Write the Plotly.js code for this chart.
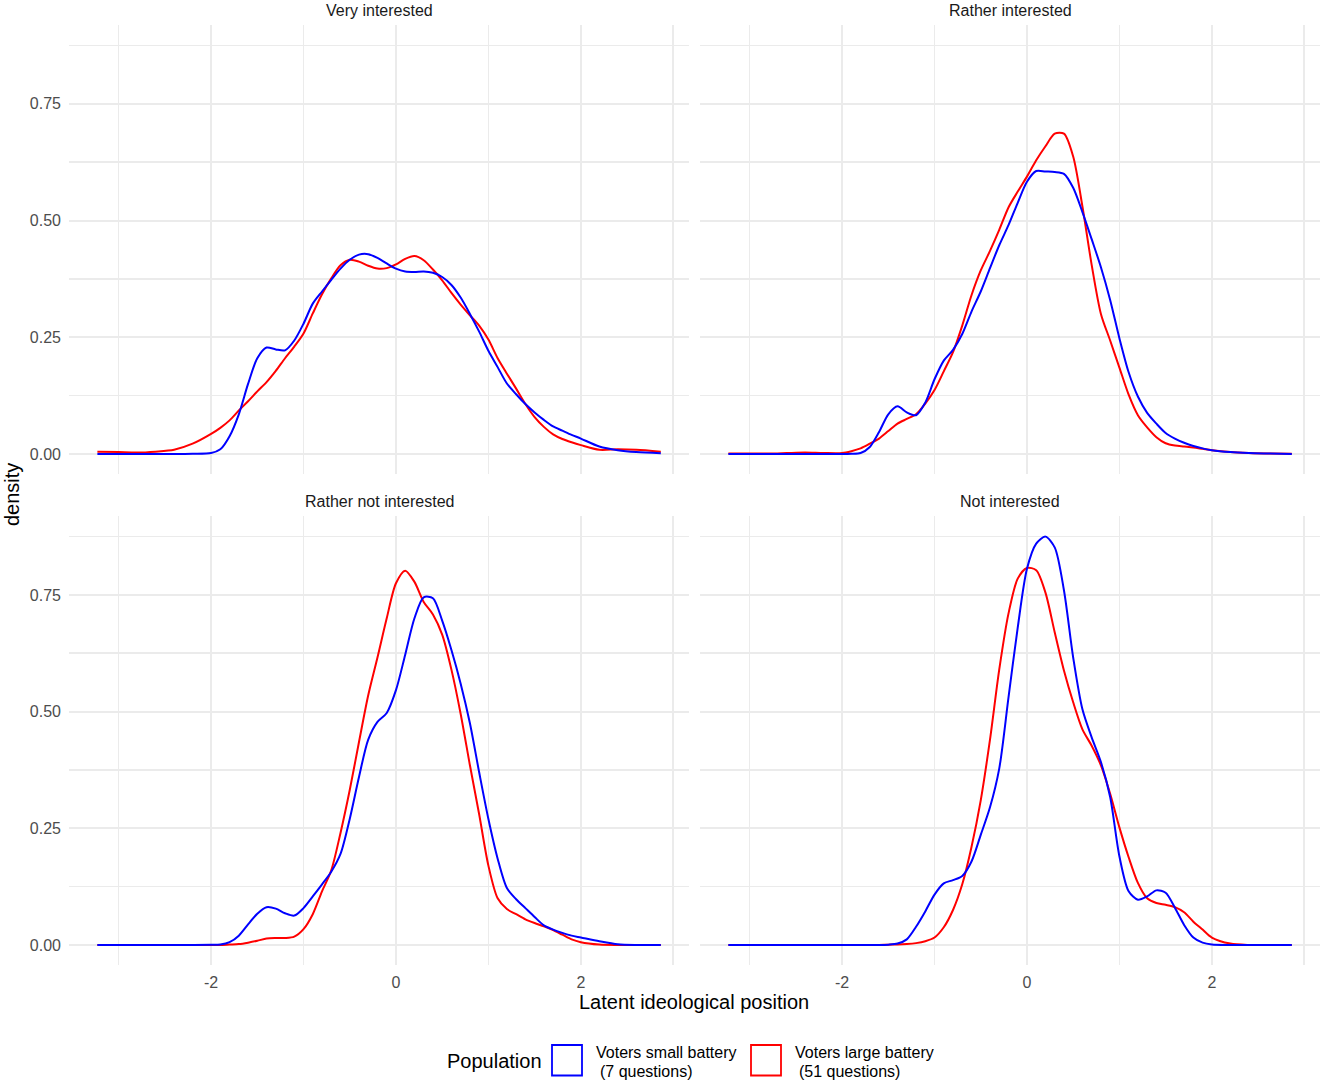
<!DOCTYPE html>
<html>
<head>
<meta charset="utf-8">
<script src="https://cdn.plot.ly/plotly-3.0.1.min.js"></script>
<style>
html,body{margin:0;padding:0;background:#fff;}
#chart{width:1325px;height:1083px;}
</style>
</head>
<body>
<div id="chart"></div>
<script>
// ---- data ----
const xs = [-3.23,-3.0,-2.8,-2.6,-2.4,-2.2,
  -2.0,-1.9,-1.8,-1.7,-1.6,-1.5,-1.4,-1.3,-1.2,-1.1,
  -1.0,-0.9,-0.8,-0.7,-0.6,-0.5,-0.4,-0.3,-0.2,-0.1,
  0.0,0.1,0.2,0.3,0.4,0.5,0.6,0.7,0.8,0.9,
  1.0,1.1,1.2,1.3,1.4,1.5,1.6,1.7,1.8,1.9,
  2.0,2.2,2.4,2.6,2.865];

const panels = ["Very interested","Rather interested","Rather not interested","Not interested"];
const seriesNames = ["Voters small battery", "Voters large battery"];
const seriesSub = ["(7 questions)", "(51 questions)"];

// Very interested
const veryInterestedSmall = [0,0,0,0,0,0.0005,
  0.002,0.01,0.038,0.085,0.15,0.205,0.228,0.224,0.222,0.243,
  0.279,0.322,0.348,0.373,0.397,0.416,0.427,0.428,0.42,0.408,
  0.397,0.391,0.39,0.391,0.388,0.379,0.362,0.335,0.3,0.262,
  0.221,0.186,0.151,0.128,0.107,0.089,0.073,0.059,0.05,0.041,
  0.033,0.016,0.008,0.004,0.0015];
const veryInterestedLarge = [0.005,0.004,0.003,0.005,0.009,0.022,
  0.043,0.056,0.072,0.093,0.113,0.134,0.154,0.178,0.205,0.23,
  0.258,0.301,0.342,0.376,0.404,0.416,0.412,0.403,0.397,0.398,
  0.406,0.418,0.424,0.415,0.395,0.372,0.345,0.32,0.297,0.275,
  0.245,0.205,0.172,0.14,0.107,0.079,0.058,0.042,0.032,0.025,
  0.019,0.009,0.01,0.009,0.005];

// Rather interested
const ratherInterestedSmall = [0,0,0,0,0,0,
  0,0.0005,0.002,0.015,0.047,0.085,0.102,0.089,0.083,0.11,
  0.16,0.2,0.223,0.257,0.305,0.348,0.398,0.447,0.49,0.538,
  0.583,0.606,0.605,0.604,0.6,0.57,0.518,0.46,0.4,0.33,
  0.248,0.175,0.123,0.088,0.065,0.045,0.033,0.024,0.017,0.012,
  0.008,0.004,0.002,0.001,0];
const ratherInterestedLarge = [0.001,0.001,0.001,0.002,0.003,0.002,
  0.002,0.006,0.012,0.022,0.033,0.049,0.065,0.075,0.085,0.108,
  0.137,0.177,0.218,0.275,0.34,0.393,0.435,0.48,0.528,0.562,
  0.594,0.629,0.659,0.686,0.686,0.637,0.53,0.405,0.3,0.243,
  0.185,0.127,0.083,0.057,0.036,0.023,0.018,0.016,0.014,0.011,
  0.008,0.004,0.002,0.001,0.0005];

// Rather not interested
const ratherNotSmall = [0,0,0,0,0,0,
  0.0003,0.001,0.006,0.02,0.044,0.067,0.081,0.078,0.068,0.063,
  0.079,0.104,0.13,0.157,0.195,0.27,0.36,0.44,0.478,0.497,
  0.546,0.622,0.7,0.745,0.743,0.695,0.632,0.56,0.475,0.37,
  0.27,0.185,0.122,0.098,0.079,0.06,0.042,0.033,0.026,0.02,
  0.016,0.008,0.0015,0,0];
const ratherNotLarge = [0,0,0,0,0,0,
  0,0,0.001,0.002,0.005,0.009,0.014,0.015,0.015,0.018,
  0.034,0.066,0.115,0.16,0.24,0.332,0.435,0.535,0.616,0.7,
  0.775,0.802,0.778,0.735,0.708,0.665,0.59,0.495,0.385,0.28,
  0.17,0.1,0.077,0.066,0.055,0.047,0.04,0.032,0.022,0.012,
  0.006,0.001,0,0,0];

// Not interested
const notInterestedSmall = [0,0,0,0,0,0,
  0,0,0,0,0,0.0007,0.003,0.012,0.039,0.072,
  0.108,0.132,0.139,0.148,0.179,0.236,0.295,0.378,0.53,0.68,
  0.806,0.86,0.875,0.852,0.76,0.616,0.505,0.445,0.392,0.317,
  0.19,0.115,0.097,0.104,0.117,0.112,0.08,0.043,0.016,0.005,
  0.001,0,0,0,0];
const notInterestedLarge = [0,0,0,0,0,0,
  0,0,0,0,0,0.0007,0.001,0.002,0.004,0.008,
  0.016,0.038,0.075,0.13,0.21,0.31,0.44,0.59,0.71,0.785,
  0.808,0.803,0.755,0.67,0.588,0.52,0.462,0.427,0.385,0.324,
  0.252,0.188,0.133,0.1,0.09,0.086,0.081,0.07,0.05,0.033,
  0.016,0.003,0,0,0];

const xTickVals = [-2, 0, 2];
const xTickLabels = ["-2", "0", "2"];
const xMinorVals = [-3, -1, 1, 3];
const yTickVals = [0, 0.25, 0.5, 0.75];
const yTickLabels = ["0.00", "0.25", "0.50", "0.75"];
const yMinorVals = [0.125, 0.375, 0.625, 0.875];

// ---- styling ----
const BLUE = "#0000FF", RED = "#FF0000";
const FONT = "Liberation Sans, Arial, Helvetica, sans-serif";
const GRID = "#ebebeb";
const W = 1325, H = 1083;

const panelData = [
  [veryInterestedSmall, veryInterestedLarge],
  [ratherInterestedSmall, ratherInterestedLarge],
  [ratherNotSmall, ratherNotLarge],
  [notInterestedSmall, notInterestedLarge]
];

const traces = [];
panelData.forEach((pair, i) => {
  const suffix = i === 0 ? "" : String(i + 1);
  // red (large) first, blue (small) drawn on top
  [[1, RED], [0, BLUE]].forEach(([k, col]) => {
    traces.push({
      type: "scatter", mode: "lines",
      x: xs, y: pair[k],
      xaxis: "x" + suffix, yaxis: "y" + suffix,
      line: {color: col, width: 2, shape: "spline", smoothing: 0.8},
      name: seriesNames[k], showlegend: false, hoverinfo: "skip"
    });
  });
});

// panel geometry in pixels
const colX = [[69, 689], [700, 1320]];
const rowY = [[25, 474.4], [516.2, 965.4]];
const px2x = p => p / W;
const px2y = p => 1 - p / H;

const xRange = [-3.537, 3.17];
const yRange = [-0.04375, 0.91875];

const layout = {
  width: W, height: H,
  margin: {l: 0, r: 0, t: 0, b: 0},
  paper_bgcolor: "#fff", plot_bgcolor: "#fff",
  font: {family: FONT, size: 16, color: "#4d4d4d"},
  showlegend: false,
  annotations: [], shapes: []
};

for (let i = 0; i < 4; i++) {
  const r = Math.floor(i / 2), c = i % 2;
  const suffix = i === 0 ? "" : String(i + 1);
  const xa = {
    domain: [px2x(colX[c][0]), px2x(colX[c][1])],
    range: xRange, anchor: "y" + suffix,
    showline: false, zeroline: false, ticks: "",
    tickmode: "array", tickvals: xTickVals, ticktext: xTickLabels,
    showticklabels: r === 1,
    tickfont: {family: FONT, size: 16, color: "#4d4d4d"},
    ticklabelstandoff: 6,
    showgrid: true, gridcolor: GRID, gridwidth: 2,
    minor: {tickmode: "array", tickvals: xMinorVals, showgrid: true, gridcolor: GRID, gridwidth: 1.7, ticks: ""},
    fixedrange: true
  };
  const ya = {
    domain: [px2y(rowY[r][1]), px2y(rowY[r][0])],
    range: yRange, anchor: "x" + suffix,
    showline: false, zeroline: false, ticks: "",
    tickmode: "array", tickvals: yTickVals, ticktext: yTickLabels,
    showticklabels: c === 0,
    tickfont: {family: FONT, size: 16, color: "#4d4d4d"},
    ticklabelstandoff: 7,
    showgrid: true, gridcolor: GRID, gridwidth: 2,
    minor: {tickmode: "array", tickvals: yMinorVals, showgrid: true, gridcolor: GRID, gridwidth: 1.7, ticks: ""},
    fixedrange: true
  };
  layout["xaxis" + suffix] = xa;
  layout["yaxis" + suffix] = ya;

  // strip label
  layout.annotations.push({
    text: panels[i], xref: "paper", yref: "paper",
    x: px2x((colX[c][0] + colX[c][1]) / 2), y: px2y(rowY[r][0] - 15),
    xanchor: "center", yanchor: "middle", showarrow: false,
    font: {family: FONT, size: 16, color: "#1a1a1a"}
  });
}

// axis titles
layout.annotations.push({
  text: "Latent ideological position", xref: "paper", yref: "paper",
  x: px2x(694.5), y: px2y(1002), xanchor: "center", yanchor: "middle",
  showarrow: false, font: {family: FONT, size: 20, color: "#000"}
});
layout.annotations.push({
  text: "density", xref: "paper", yref: "paper",
  x: px2x(12), y: px2y(495), xanchor: "center", yanchor: "middle",
  textangle: -90, showarrow: false, font: {family: FONT, size: 20, color: "#000"}
});

// legend (ggplot style outline keys)
layout.annotations.push({
  text: "Population", xref: "paper", yref: "paper",
  x: px2x(445), y: px2y(1061), xanchor: "left", yanchor: "middle",
  showarrow: false, font: {family: FONT, size: 20, color: "#000"}
});
const keyX = [552, 751];
const keyCol = [BLUE, RED];
for (let k = 0; k < 2; k++) {
  layout.shapes.push({
    type: "rect", xref: "paper", yref: "paper",
    x0: px2x(keyX[k]), x1: px2x(keyX[k] + 30),
    y0: px2y(1075.5), y1: px2y(1045),
    line: {color: keyCol[k], width: 1.8}, fillcolor: "rgba(0,0,0,0)"
  });
  layout.annotations.push({
    text: seriesNames[k], xref: "paper", yref: "paper",
    x: px2x(keyX[k] + 42), y: px2y(1052.5), xanchor: "left", yanchor: "middle",
    showarrow: false, font: {family: FONT, size: 16, color: "#000"}
  });
  layout.annotations.push({
    text: seriesSub[k], xref: "paper", yref: "paper",
    x: px2x(keyX[k] + 46), y: px2y(1071), xanchor: "left", yanchor: "middle",
    showarrow: false, font: {family: FONT, size: 16, color: "#000"}
  });
}

Plotly.newPlot("chart", traces, layout, {displayModeBar: false, staticPlot: true});
</script>
</body>
</html>
